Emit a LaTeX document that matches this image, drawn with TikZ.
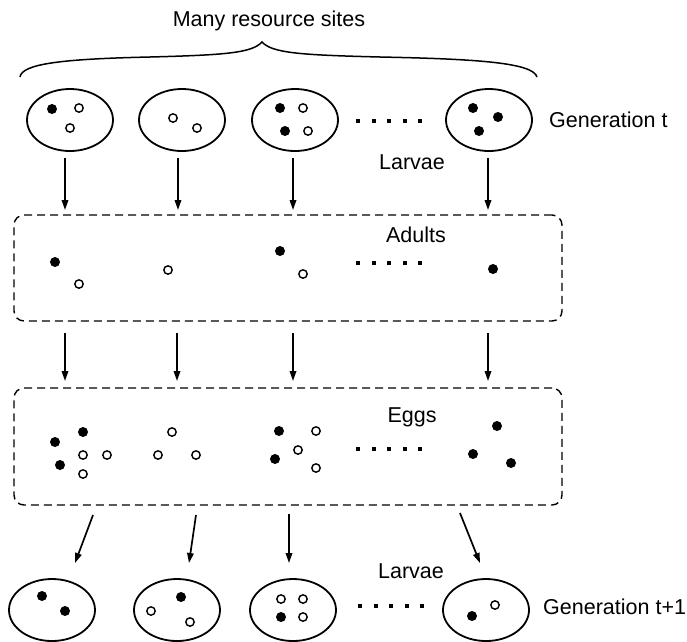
\documentclass[tikz,border=0pt]{standalone}
\usepackage{fontspec}
\setmainfont{Liberation Sans}
\usetikzlibrary{shapes.geometric,arrows.meta}
\newcommand\fdot[2]{\fill (#1) ++(#2) circle[radius=5pt];}
\newcommand\odt[2]{\draw[line width=1.4pt] (#1) ++(#2) circle[radius=4.2pt];}
\newcommand\dotrow[1]{\foreach \i in {0,...,4}{\fill (#1) ++(15.5*\i-2,-2) rectangle ++(4,4);}}
\begin{document}
\begin{tikzpicture}[x=1pt,y=-1pt,
 site/.style={draw, ellipse, line width=1.8pt, minimum width=86pt, minimum height=62pt, inner sep=0pt},
 dbox/.style={draw, rectangle, rounded corners=10pt, dash pattern=on 8pt off 5pt, line width=1.4pt, minimum width=548pt, inner sep=0pt},
 lbl/.style={font=\fontsize{21.5}{24}\selectfont, inner sep=0pt},
 arr/.style={line width=1.7pt, -{Triangle[length=10pt,width=6.5pt]}},
]
\useasboundingbox (0,0) rectangle (687,641);

% title and brace
\node[lbl, anchor=base] (title) at (269,26) {Many resource sites};
\coordinate (bl) at (20,77);
\coordinate (bt) at (262,42);
\coordinate (br) at (537,77);
\draw[line width=1.5pt] (bl) .. controls (22,64) and (60,59) .. (150,57)
  .. controls (225,55) and (252,53) .. (bt)
  .. controls (272,53) and (300,55) .. (380,57)
  .. controls (480,59) and (533,63) .. (br);

% generation t
\node[site] (t1) at (70,120) {};
\node[site] (t2) at (182,120) {};
\node[site] (t3) at (295,120) {};
\node[site] (t4) at (489,120) {};
\fdot{t1}{-18,-11} \odt{t1}{9,-12} \odt{t1}{0,8}
\odt{t2}{-9,-2} \odt{t2}{15,8}
\fdot{t3}{-15,-12} \odt{t3}{8,-12} \fdot{t3}{-10,11} \odt{t3}{13,11}
\fdot{t4}{-16,-12} \fdot{t4}{9,-3} \fdot{t4}{-10,11}
\coordinate (r1) at (358,121); \dotrow{r1}
\node[lbl, anchor=base west] (gent) at (549,127) {Generation t};
\node[lbl, anchor=base] (larv1) at (412,169) {Larvae};

% adults
\node[dbox, minimum height=106pt] (adults) at (288,268) {};
\node[lbl, anchor=base] (adl) at (416,242) {Adults};
\coordinate (ad) at (0,0);
\fdot{ad}{55,262} \odt{ad}{79,284}
\odt{ad}{168,270}
\fdot{ad}{280,251} \odt{ad}{303,274}
\coordinate (r2) at (358,263); \dotrow{r2}
\fdot{ad}{493,269}

% eggs
\node[dbox, minimum height=117pt] (eggs) at (288,446.5) {};
\node[lbl, anchor=base] (egg) at (412,422) {Eggs};
\fdot{ad}{83,432} \fdot{ad}{55,442} \fdot{ad}{60,465}
\odt{ad}{83,455} \odt{ad}{107,455} \odt{ad}{83,474}
\odt{ad}{172,432} \odt{ad}{158,455} \odt{ad}{196,455}
\fdot{ad}{279,431} \odt{ad}{316,431} \odt{ad}{298,450} \fdot{ad}{275,459} \odt{ad}{316,468}
\coordinate (r3) at (358,449); \dotrow{r3}
\fdot{ad}{497,426} \fdot{ad}{473,454} \fdot{ad}{511,463}

% generation t+1
\node[site] (b1) at (52,610) {};
\node[site] (b2) at (177,610) {};
\node[site] (b3) at (293,610) {};
\node[site] (b4) at (486,610) {};
\fdot{b1}{-10,-14} \fdot{b1}{13,1}
\fdot{b2}{4,-13} \odt{b2}{-26,1} \odt{b2}{13,12}
\odt{b3}{-12,-11} \odt{b3}{10,-11} \fdot{b3}{-12,7} \odt{b3}{10,7}
\fdot{b4}{-14,6} \odt{b4}{9,-5}
\coordinate (r4) at (360,606); \dotrow{r4}
\node[lbl, anchor=base] (larv2) at (411,578) {Larvae};
\node[lbl, anchor=base west] (gent1) at (543,614) {Generation t+1};

% arrows
\foreach \x [count=\k] in {65,178,293,488}{
  \coordinate (ua\k) at (\x,158); \coordinate (ub\k) at (\x,210);
  \draw[arr] (ua\k) -- (ub\k);
}
\foreach \x [count=\k] in {65,177,293,488}{
  \coordinate (ma\k) at (\x,333); \coordinate (mb\k) at (\x,381);
  \draw[arr] (ma\k) -- (mb\k);
}
\coordinate (la1) at (93,515); \coordinate (lb1) at (75,563);
\coordinate (la2) at (196,515); \coordinate (lb2) at (189,563);
\coordinate (la3) at (289,514); \coordinate (lb3) at (289,563);
\coordinate (la4) at (460,513); \coordinate (lb4) at (480,563);
\foreach \k in {1,...,4}{\draw[arr] (la\k) -- (lb\k);}
\end{tikzpicture}
\end{document}
